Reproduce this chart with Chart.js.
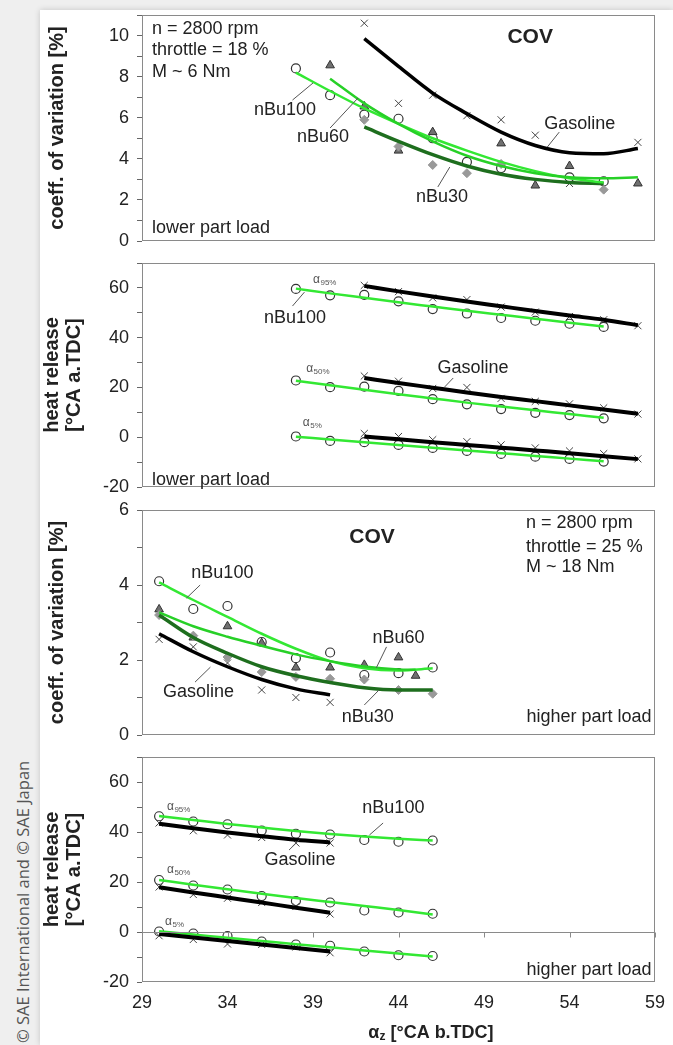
<!DOCTYPE html>
<html>
<head>
<meta charset="utf-8">
<script src="https://cdn.jsdelivr.net/npm/chart.js@4.4.1/dist/chart.umd.min.js"></script>
<style>
  body { margin: 0; width: 673px; height: 1045px; background: #efefef; position: relative; overflow: hidden; }
  .card { position: absolute; left: 40px; top: 10px; right: 0; bottom: 0; background: #fff; box-shadow: 0 0 6px rgba(0,0,0,0.18); }
  canvas { position: absolute; left: 0; }
  .copy { position: absolute; left: 12px; top: 1043px; transform-origin: 0 0; transform: rotate(-90deg);
          white-space: nowrap; font: 16.5px "Open Sans", sans-serif; color: #555; line-height: 22px; }
</style>
</head>
<body>
<div class="card"></div>
<div class="copy">© SAE International and © SAE Japan</div>
<canvas id="covLow" width="673" height="252" style="top:0px"></canvas>
<canvas id="hrLow" width="673" height="245" style="top:252px"></canvas>
<canvas id="covHigh" width="673" height="250" style="top:497px"></canvas>
<canvas id="hrHigh" width="673" height="298" style="top:747px"></canvas>
<script>
// ignition timing axis (°CA b.TDC)
const xTicks = [29, 34, 39, 44, 49, 54, 59];

// --- lower part load, COV ---
const covLoGasX = [42, 44, 46, 48, 50, 52, 54, 58];
const covLoGasY = [10.6, 6.7, 7.1, 6.1, 5.9, 5.15, 2.8, 4.8];
const covLoBu100X = [38, 40, 42, 44, 46, 48, 50, 54, 56];
const covLoBu100Y = [8.4, 7.1, 6.15, 5.95, 5.0, 3.85, 3.55, 3.1, 2.9];
const covLoBu60X = [40, 42, 44, 46, 50, 52, 54, 58];
const covLoBu60Y = [8.55, 6.55, 4.4, 5.3, 4.75, 2.7, 3.65, 2.8];
const covLoBu30X = [42, 44, 46, 48, 50, 56];
const covLoBu30Y = [5.9, 4.6, 3.7, 3.3, 3.75, 2.5];
// trend lines
const covLoGasFitX = [42, 44, 46, 48, 50, 52, 54, 56, 58];
const covLoGasFitY = [9.85, 8.5, 7.2, 6.2, 5.3, 4.65, 4.3, 4.25, 4.5];
const covLoBu100FitX = [38, 40, 42, 44, 46, 48, 50, 52, 54, 56];
const covLoBu100FitY = [8.2, 7.3, 6.45, 5.7, 5.0, 4.4, 3.85, 3.4, 3.05, 2.85];
const covLoBu60FitX = [40, 42, 44, 46, 48, 50, 52, 54, 56, 58];
const covLoBu60FitY = [7.9, 6.7, 5.7, 4.85, 4.15, 3.65, 3.3, 3.1, 3.05, 3.1];
const covLoBu30FitX = [42, 44, 46, 48, 50, 52, 54, 56];
const covLoBu30FitY = [5.55, 4.85, 4.2, 3.65, 3.25, 3.0, 2.85, 2.8];

// --- lower part load, heat release ---
const hrLoBuX = [38, 40, 42, 44, 46, 48, 50, 52, 54, 56];
const hrLoBu95 = [59.6, 57.0, 57.2, 54.6, 51.5, 49.7, 47.9, 46.8, 45.6, 44.3];
const hrLoBu50 = [22.8, 20.1, 20.3, 18.6, 15.3, 13.2, 11.3, 9.8, 8.9, 7.6];
const hrLoBu5 = [0.3, -1.5, -2.0, -3.1, -4.3, -5.5, -6.7, -7.8, -8.7, -9.8];
const hrLoGasX = [42, 44, 46, 48, 50, 52, 54, 56, 58];
const hrLoGas95 = [61.0, 58.5, 56.0, 55.3, 52.3, 50.3, 48.5, 47.2, 44.8];
const hrLoGas50 = [24.6, 22.5, 19.6, 20.0, 15.6, 14.4, 13.4, 11.8, 9.3];
const hrLoGas5 = [1.5, 0.3, -1.0, -1.8, -3.1, -4.3, -5.5, -6.6, -8.7];
const hrLoBu95Fit = [59.7, 57.8, 56.0, 54.2, 52.5, 50.8, 49.2, 47.6, 46.0, 44.5];
const hrLoBu50Fit = [22.7, 20.9, 19.1, 17.3, 15.6, 13.9, 12.3, 10.8, 9.3, 7.8];
const hrLoBu5Fit = [0.2, -0.9, -2.0, -3.1, -4.2, -5.3, -6.4, -7.5, -8.6, -9.7];
const hrLoGas95Fit = [60.8, 58.6, 56.5, 54.5, 52.6, 50.7, 48.9, 47.2, 45.0];
const hrLoGas50Fit = [23.8, 21.8, 19.9, 18.0, 16.2, 14.5, 12.8, 11.1, 9.4];
const hrLoGas5Fit = [0.3, -0.8, -2.0, -3.1, -4.2, -5.3, -6.4, -7.6, -8.8];

// --- higher part load, COV ---
const covHiBuX = [30, 32, 34, 36, 38, 40, 42, 44, 46];
const covHiBu100Y = [4.1, 3.36, 3.44, 2.48, 2.05, 2.2, 1.6, 1.65, 1.8];
const covHiBu60X = [30, 32, 34, 36, 38, 40, 42, 44, 45];
const covHiBu60Y = [3.35, 2.6, 2.9, 2.45, 1.8, 1.8, 1.87, 2.07, 1.58];
const covHiBu30Y = [3.2, 2.65, 2.08, 1.68, 1.55, 1.5, 1.48, 1.2, 1.1];
const covHiGasX = [30, 32, 34, 36, 38, 40];
const covHiGasY = [2.55, 2.35, 1.92, 1.2, 1.0, 0.87];
const covHiBu100Fit = [4.07, 3.6, 3.15, 2.7, 2.3, 1.97, 1.78, 1.72, 1.78];
const covHiBu60Fit = [3.27, 2.9, 2.62, 2.38, 2.15, 1.97, 1.83, 1.75, 1.74];
const covHiBu30Fit = [3.2, 2.6, 2.18, 1.82, 1.58, 1.4, 1.26, 1.2, 1.2];
const covHiGasFit = [2.7, 2.22, 1.82, 1.48, 1.23, 1.07];

// --- higher part load, heat release ---
const hrHiBuX = [30, 32, 34, 36, 38, 40, 42, 44, 46];
const hrHiBu95 = [46.3, 44.2, 43.1, 40.6, 39.3, 39.0, 36.8, 36.1, 36.6];
const hrHiBu50 = [20.8, 18.6, 17.0, 14.4, 12.4, 11.8, 8.6, 7.8, 7.3];
const hrHiBu5 = [0.2, -0.6, -1.6, -3.8, -5.0, -5.5, -7.8, -9.3, -9.6];
const hrHiGasX = [30, 32, 34, 36, 38, 40];
const hrHiGas95 = [43.6, 40.5, 38.8, 37.8, 35.6, 35.6];
const hrHiGas50 = [18.0, 15.0, 13.5, 11.8, 10.2, 7.2];
const hrHiGas5 = [-1.5, -3.0, -4.8, -5.0, -6.0, -8.3];
const hrHiBu95Fit = [46.4, 44.8, 43.2, 41.8, 40.4, 39.2, 38.2, 37.3, 36.6];
const hrHiBu50Fit = [20.8, 18.9, 17.1, 15.3, 13.6, 12.0, 10.4, 8.8, 7.0];
const hrHiBu5Fit = [0.3, -1.0, -2.3, -3.6, -4.9, -6.1, -7.4, -8.6, -9.8];
const hrHiGas95Fit = [43.3, 41.5, 39.8, 38.3, 36.9, 35.8];
const hrHiGas50Fit = [17.9, 15.8, 13.8, 11.8, 9.7, 7.7];
const hrHiGas5Fit = [-0.8, -2.2, -3.6, -5.0, -6.4, -7.8];

const FONT = '"Liberation Sans", Arial, sans-serif';
const INK = '#222';
const GREEN = '#33e833';
const GREEN2 = '#27d027';
const DKGREEN = '#1e6e1e';

const MARK = {
  gas:   { style: 'crossRot', r: 5,   fill: '#444', stroke: '#444', w: 1 },
  bu100: { style: 'circle',   r: 4.5, fill: 'rgba(255,255,255,0)', stroke: '#333', w: 1.2 },
  bu60:  { style: 'triangle', r: 5,   fill: '#707070', stroke: '#333', w: 1 },
  bu30:  { style: 'rectRot',  r: 4.5, fill: '#999', stroke: '#999', w: 1 }
};

function pts(xs, ys) {
  return xs.map((x, i) => ({ x: x, y: ys[i] }));
}
function marks(xs, ys, kind) {
  const m = MARK[kind];
  return { data: pts(xs, ys), showLine: false, pointStyle: m.style, pointRadius: m.r,
           pointBackgroundColor: m.fill, pointBorderColor: m.stroke, pointBorderWidth: m.w, order: 5 };
}
function trend(xs, ys, color, width, order) {
  return { data: pts(xs, ys), showLine: true, borderColor: color, borderWidth: width, pointRadius: 0,
           cubicInterpolationMode: 'monotone', fill: false, order: order || 1 };
}

// frame, zero line, annotations and axis titles
const notes = {
  id: 'notes',
  afterDatasetsDraw(chart, args, o) {
    const ctx = chart.ctx, a = chart.chartArea, sx = chart.scales.x, sy = chart.scales.y;
    const X = v => sx.getPixelForValue(v), Y = v => sy.getPixelForValue(v);
    ctx.save();
    ctx.strokeStyle = '#8a8a8a';
    ctx.lineWidth = 1;
    ctx.strokeRect(a.left + 0.5, a.top + 0.5, a.width - 1, a.height - 1);

    if (o.zeroLine) {
      const y0 = Math.round(Y(0)) + 0.5;
      ctx.beginPath();
      ctx.moveTo(a.left, y0); ctx.lineTo(a.right, y0);
      xTicks.slice(1).forEach(t => { const px = Math.round(X(t)) + 0.5; ctx.moveTo(px, y0); ctx.lineTo(px, y0 + 5); });
      ctx.stroke();
    }

    ctx.strokeStyle = '#555';
    ctx.lineWidth = 1;
    (o.leaders || []).forEach(l => {
      ctx.beginPath(); ctx.moveTo(X(l[0]), Y(l[1])); ctx.lineTo(X(l[2]), Y(l[3])); ctx.stroke();
    });

    ctx.fillStyle = INK;
    ctx.textBaseline = 'middle';
    (o.labels || []).forEach(l => {
      ctx.font = (l.bold ? 'bold ' : '') + (l.size || 18) + 'px ' + FONT;
      ctx.textAlign = l.align || 'center';
      ctx.fillText(l.t, X(l.x), Y(l.y));
    });

    ctx.fillStyle = '#555';
    ctx.textAlign = 'left';
    (o.alphas || []).forEach(l => {
      ctx.font = '12px ' + FONT;
      const px = X(l.x), py = Y(l.y);
      ctx.fillText('α', px, py);
      const w = ctx.measureText('α').width;
      ctx.font = '8px ' + FONT;
      ctx.fillText(l.sub, px + w + 0.5, py + 3);
    });

    ctx.fillStyle = INK;
    (o.yTitle || []).forEach(l => {
      ctx.save();
      ctx.translate(l.px, (a.top + a.bottom) / 2);
      ctx.rotate(-Math.PI / 2);
      ctx.textAlign = 'center';
      ctx.font = 'bold 20px ' + FONT;
      ctx.fillText(l.t, 0, 0);
      ctx.restore();
    });

    if (o.xTitle) {
      const big = 'bold 18px ' + FONT, small = 'bold 12px ' + FONT;
      ctx.font = big; const wA = ctx.measureText('α').width;
      const rest = ' [°CA b.TDC]'; const wR = ctx.measureText(rest).width;
      ctx.font = small; const wZ = ctx.measureText('z').width;
      let px = X(o.xTitle.x) - (wA + wZ + wR) / 2;
      const py = a.bottom + o.xTitle.dy;
      ctx.textAlign = 'left';
      ctx.font = big; ctx.fillText('α', px, py); px += wA;
      ctx.font = small; ctx.fillText('z', px, py + 4); px += wZ;
      ctx.font = big; ctx.fillText(rest, px, py);
    }
    ctx.restore();
  }
};

function panel(id, p) {
  return new Chart(document.getElementById(id), {
    type: 'scatter',
    data: { datasets: p.datasets },
    options: {
      responsive: false,
      animation: false,
      devicePixelRatio: 1,
      layout: { padding: { top: p.pad[0], right: 18, bottom: p.pad[1], left: 0 } },
      plugins: { legend: { display: false }, tooltip: { enabled: false }, notes: p.notes },
      scales: {
        x: {
          type: 'linear', min: 29, max: 59, display: !!p.showX,
          grid: { display: false, drawTicks: false }, border: { display: false },
          ticks: { stepSize: 5, autoSkip: false, maxRotation: 0, padding: 10, color: INK, font: { family: FONT, size: 18 } },
          afterFit(s) {
            s.paddingLeft = 0; s.paddingRight = 0;
            s.height = p.showX ? 35 : 0;
          }
        },
        y: {
          type: 'linear', min: p.y[0], max: p.y[1],
          grid: { drawOnChartArea: false, drawTicks: true, tickLength: 5, color: '#666' },
          border: { display: false },
          ticks: {
            stepSize: p.y[2], autoSkip: false, padding: 8, color: INK, font: { family: FONT, size: 18 },
            callback: v => (Math.round(v) % p.y[3] === 0 ? v : '')
          },
          afterFit(s) { s.width = 142; s.paddingTop = 0; s.paddingBottom = 0; }
        }
      }
    },
    plugins: [notes]
  });
}

panel('covLow', {
  pad: [15, 11],
  y: [0, 11, 1, 2],
  datasets: [
    trend(covLoGasFitX, covLoGasFitY, '#000', 3.5, 1),
    trend(covLoBu30FitX, covLoBu30FitY, DKGREEN, 3.5, 2),
    trend(covLoBu60FitX, covLoBu60FitY, GREEN2, 2.5, 1),
    trend(covLoBu100FitX, covLoBu100FitY, GREEN, 2.5, 0),
    marks(covLoBu30X, covLoBu30Y, 'bu30'),
    marks(covLoBu60X, covLoBu60Y, 'bu60'),
    marks(covLoBu100X, covLoBu100Y, 'bu100'),
    marks(covLoGasX, covLoGasY, 'gas')
  ],
  notes: {
    labels: [
      { t: 'n = 2800 rpm', x: 29.58, y: 10.32, align: 'left' },
      { t: 'throttle = 18 %', x: 29.58, y: 9.29, align: 'left' },
      { t: 'M ~ 6 Nm', x: 29.58, y: 8.22, align: 'left' },
      { t: 'lower part load', x: 29.58, y: 0.63, align: 'left' },
      { t: 'COV', x: 51.7, y: 9.93, bold: true, size: 21 },
      { t: 'nBu100', x: 37.36, y: 6.37 },
      { t: 'nBu60', x: 39.58, y: 5.06 },
      { t: 'nBu30', x: 46.54, y: 2.14 },
      { t: 'Gasoline', x: 54.6, y: 5.69 }
    ],
    leaders: [[37.8, 6.86, 39.0, 7.69], [40.0, 5.5, 41.63, 6.96], [46.3, 2.63, 47.0, 3.6], [52.7, 4.57, 53.4, 5.3]],
    yTitle: [{ t: 'coeff. of variation [%]', px: 57 }]
  }
});

panel('hrLow', {
  pad: [11, 10],
  y: [-20, 70, 10, 20],
  datasets: [
    trend(hrLoGasX, hrLoGas95Fit, '#000', 4, 1),
    trend(hrLoGasX, hrLoGas50Fit, '#000', 4, 1),
    trend(hrLoGasX, hrLoGas5Fit, '#000', 4, 1),
    trend(hrLoBuX, hrLoBu95Fit, GREEN, 2.5, 0),
    trend(hrLoBuX, hrLoBu50Fit, GREEN, 2.5, 0),
    trend(hrLoBuX, hrLoBu5Fit, GREEN, 2.5, 0),
    marks(hrLoGasX, hrLoGas95, 'gas'),
    marks(hrLoGasX, hrLoGas50, 'gas'),
    marks(hrLoGasX, hrLoGas5, 'gas'),
    marks(hrLoBuX, hrLoBu95, 'bu100'),
    marks(hrLoBuX, hrLoBu50, 'bu100'),
    marks(hrLoBuX, hrLoBu5, 'bu100')
  ],
  notes: {
    labels: [
      { t: 'nBu100', x: 37.95, y: 47.9 },
      { t: 'Gasoline', x: 48.36, y: 27.8 },
      { t: 'lower part load', x: 29.58, y: -17.2, align: 'left' }
    ],
    leaders: [[37.8, 52.7, 38.5, 58.3], [46.7, 20.2, 47.2, 23.8]],
    alphas: [{ x: 39.0, y: 63.2, sub: '95%' }, { x: 38.6, y: 27.4, sub: '50%' }, { x: 38.4, y: 5.7, sub: '5%' }],
    yTitle: [{ t: 'heat release', px: 52 }, { t: '[°CA a.TDC]', px: 74 }]
  }
});

panel('covHigh', {
  pad: [13, 12],
  y: [0, 6, 1, 2],
  datasets: [
    trend(covHiGasX, covHiGasFit, '#000', 3.5, 1),
    trend(covHiBuX, covHiBu30Fit, DKGREEN, 3.5, 2),
    trend(covHiBu60X, covHiBu60Fit, GREEN2, 2.5, 1),
    trend(covHiBuX, covHiBu100Fit, GREEN, 2.5, 0),
    marks(covHiBuX, covHiBu30Y, 'bu30'),
    marks(covHiBu60X, covHiBu60Y, 'bu60'),
    marks(covHiBuX, covHiBu100Y, 'bu100'),
    marks(covHiGasX, covHiGasY, 'gas')
  ],
  notes: {
    labels: [
      { t: 'COV', x: 42.45, y: 5.28, bold: true, size: 21 },
      { t: 'n = 2800 rpm', x: 51.46, y: 5.65, align: 'left' },
      { t: 'throttle = 25 %', x: 51.46, y: 5.01, align: 'left' },
      { t: 'M ~ 18 Nm', x: 51.46, y: 4.48, align: 'left' },
      { t: 'nBu100', x: 33.7, y: 4.32 },
      { t: 'nBu60', x: 44.0, y: 2.59 },
      { t: 'Gasoline', x: 32.3, y: 1.15 },
      { t: 'nBu30', x: 42.2, y: 0.48 },
      { t: 'higher part load', x: 58.8, y: 0.48, align: 'right' }
    ],
    leaders: [[32.4, 4.0, 31.6, 3.65], [43.3, 2.35, 42.7, 1.79], [32.1, 1.41, 33.0, 1.81], [42.0, 0.8, 42.86, 1.2]],
    yTitle: [{ t: 'coeff. of variation [%]', px: 57 }]
  }
});

panel('hrHigh', {
  pad: [10, 28],
  y: [-20, 70, 10, 20],
  showX: true,
  datasets: [
    trend(hrHiGasX, hrHiGas95Fit, '#000', 4, 1),
    trend(hrHiGasX, hrHiGas50Fit, '#000', 4, 1),
    trend(hrHiGasX, hrHiGas5Fit, '#000', 4, 1),
    trend(hrHiBuX, hrHiBu95Fit, GREEN, 2.5, 0),
    trend(hrHiBuX, hrHiBu50Fit, GREEN, 2.5, 0),
    trend(hrHiBuX, hrHiBu5Fit, GREEN, 2.5, 0),
    marks(hrHiGasX, hrHiGas95, 'gas'),
    marks(hrHiGasX, hrHiGas50, 'gas'),
    marks(hrHiGasX, hrHiGas5, 'gas'),
    marks(hrHiBuX, hrHiBu95, 'bu100'),
    marks(hrHiBuX, hrHiBu50, 'bu100'),
    marks(hrHiBuX, hrHiBu5, 'bu100')
  ],
  notes: {
    zeroLine: true,
    labels: [
      { t: 'nBu100', x: 43.7, y: 49.6 },
      { t: 'Gasoline', x: 38.24, y: 28.8 },
      { t: 'higher part load', x: 58.8, y: -15.2, align: 'right' }
    ],
    leaders: [[42.3, 38.8, 43.1, 43.6], [37.6, 32.8, 38.2, 36.8]],
    alphas: [{ x: 30.46, y: 50, sub: '95%' }, { x: 30.46, y: 24.8, sub: '50%' }, { x: 30.35, y: 4, sub: '5%' }],
    yTitle: [{ t: 'heat release', px: 52 }, { t: '[°CA a.TDC]', px: 74 }],
    xTitle: { x: 45.9, dy: 51 }
  }
});
</script>
</body>
</html>
